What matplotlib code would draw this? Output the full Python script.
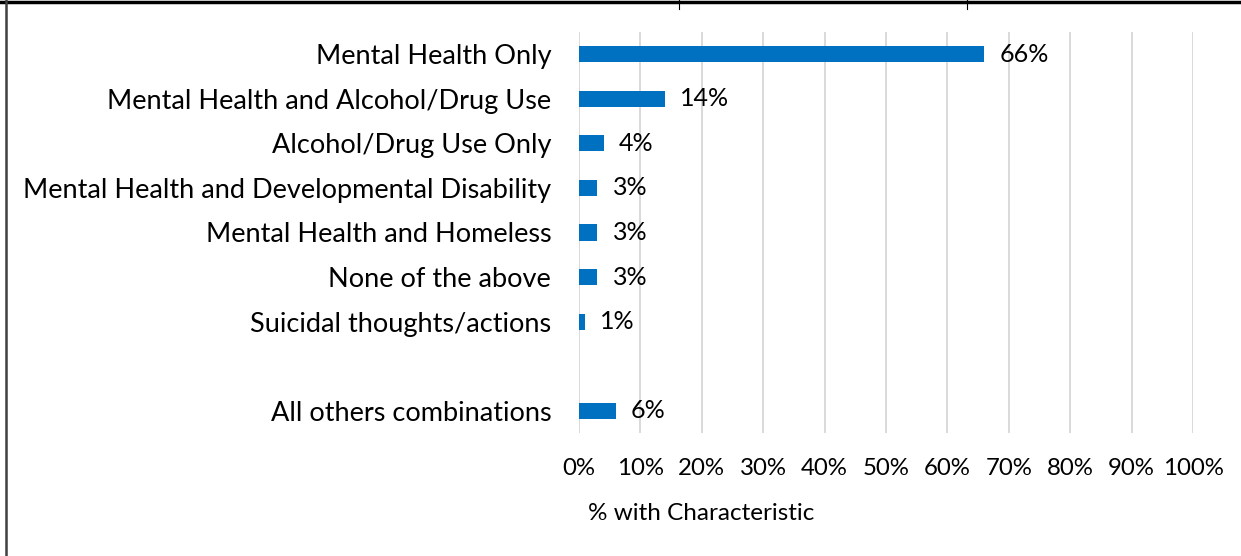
import matplotlib
matplotlib.use('Agg')
import matplotlib.pyplot as plt
from matplotlib.lines import Line2D

plt.rcParams['font.family'] = ['Lato', 'DejaVu Sans']

categories = ['Mental Health Only', 'Mental Health and Alcohol/Drug Use',
              'Alcohol/Drug Use Only', 'Mental Health and Developmental Disability',
              'Mental Health and Homeless', 'None of the above',
              'Suicidal thoughts/actions', '', 'All others combinations']
values = [66, 14, 4, 3, 3, 3, 1, None, 6]
tick_labels = ['0%', '10%', '20%', '30%', '40%', '50%', '60%', '70%', '80%', '90%', '100%']

fig = plt.figure(figsize=(12.41, 5.56), dpi=100)
ax = fig.add_axes([579/1241, 1-433/556, (1193-579)/1241, (433-32)/556])

pos = list(range(len(categories)))
for p, v in zip(pos, values):
    if v is None:
        continue
    ax.barh(p, v, height=0.36, color='#0070C0', zorder=3)
    ax.annotate(f'{v}%', (v, p), xytext=(11, 0), textcoords='offset points',
                va='center', ha='left', fontsize=18, color='#000000')

ax.set_xlim(0, 100)
ax.set_ylim(len(categories) - 0.5, -0.5)
ax.set_yticks(pos)
ax.set_yticklabels(categories, fontsize=19.5)
ax.set_xticks(range(0, 101, 10))
ax.set_xticklabels(tick_labels, fontsize=17.3)
ax.tick_params(axis='y', length=0, pad=20)
ax.tick_params(axis='x', length=0, pad=18)
ax.grid(axis='x', color='#D9D9D9', linewidth=1.4, zorder=0)
for s in ax.spines.values():
    s.set_visible(False)

fig.text(701/1241, 1-514/556, '% with Characteristic', ha='center', va='center', fontsize=17.5)

# frame pieces around the chart
fig.add_artist(Line2D([0, 1], [1-1.5/556, 1-1.5/556], color='black', linewidth=2.5))
fig.add_artist(Line2D([6/1241, 6/1241], [0, 1], color='#404040', linewidth=1.8))
for xx in [679, 967]:
    fig.add_artist(Line2D([xx/1241, xx/1241], [1, 1-9/556], color='black', linewidth=0.8))

fig.savefig('out.png', dpi=100)
